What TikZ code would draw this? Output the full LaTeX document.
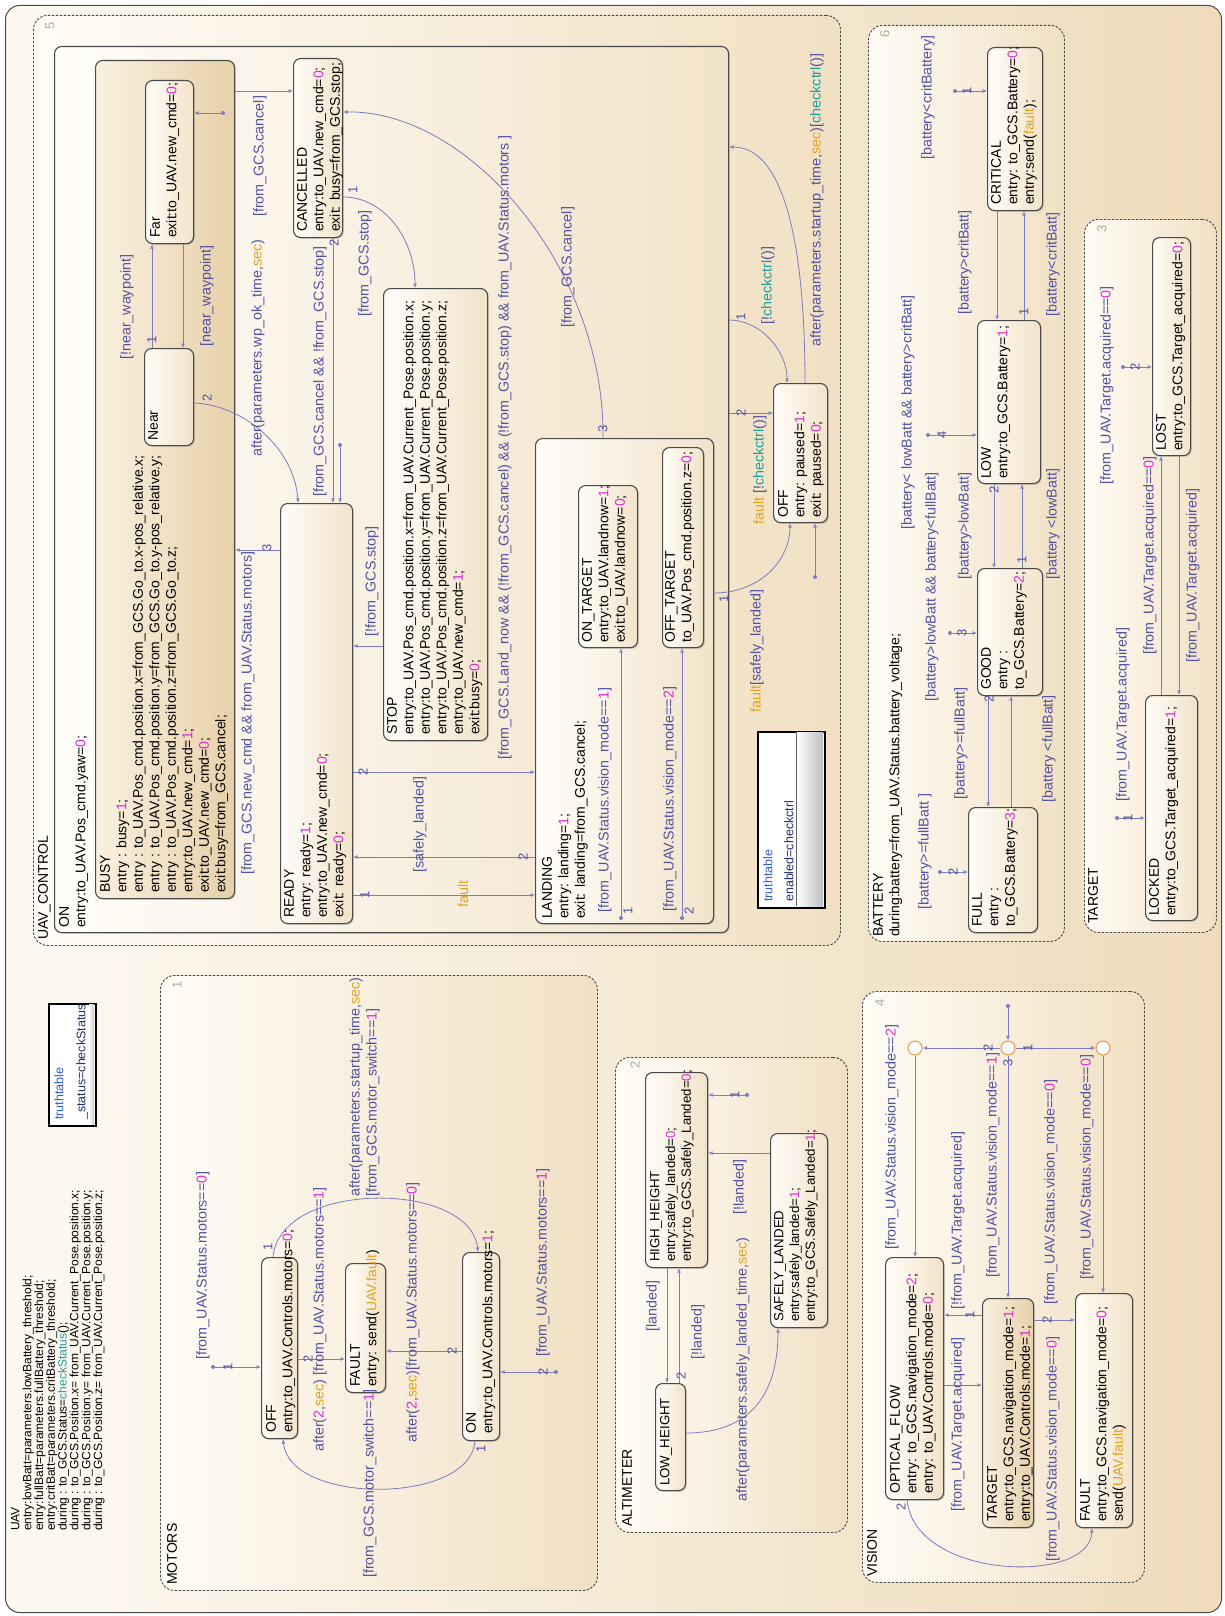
\documentclass[tikz,border=0pt]{standalone}
\usepackage{fontspec}
\setmainfont{Liberation Sans}
\usetikzlibrary{arrows.meta,shadows}
\definecolor{bordgray}{HTML}{4A4A4A}
\definecolor{bgleft}{HTML}{FDF9F1}
\definecolor{bgright}{HTML}{EEDCBC}
\definecolor{parleft}{HTML}{FFFCF6}
\definecolor{parright}{HTML}{F1E0C3}
\definecolor{stleft}{HTML}{FFFDF9}
\definecolor{stright}{HTML}{F2E3C9}
\definecolor{busyleft}{HTML}{FAF1E0}
\definecolor{busyright}{HTML}{E7D0A9}
\definecolor{lineblue}{HTML}{7C7CC0}
\definecolor{guardblue}{HTML}{5252A3}
\definecolor{magnum}{HTML}{D62FD0}
\definecolor{kworange}{HTML}{E3A21A}
\definecolor{fnteal}{HTML}{1E9E9E}
\definecolor{ordgray}{HTML}{AAAAAA}
\definecolor{juncorange}{HTML}{E3A050}
\definecolor{ttblue}{HTML}{2F5FD0}
\definecolor{ttnavy}{HTML}{1F2F6F}
\newcommand{\numc}[1]{\textcolor{magnum}{#1}}
\newcommand{\kwc}[1]{\textcolor{kworange}{#1}}
\newcommand{\fnc}[1]{\textcolor{fnteal}{#1}}
\tikzset{
  uavbox/.style={draw=bordgray,line width=1pt,rounded corners=14pt,left color=bgleft,right color=bgright,inner sep=0pt},
  parbox/.style={draw=bordgray,dash pattern=on 2.5pt off 1.5pt,line width=0.9pt,rounded corners=14pt,left color=parleft,right color=parright,inner sep=0pt},
  stbox/.style={draw=bordgray,line width=1.1pt,rounded corners=7pt,left color=stleft,right color=stright,inner sep=0pt,drop shadow={shadow xshift=1.3pt,shadow yshift=-1.3pt,opacity=0.35}},
  busybox/.style={stbox,left color=busyleft,right color=busyright},
  ttbox/.style={draw=black,line width=1.8pt,fill=white,inner sep=0pt},
  sttext/.style={rotate=90,anchor=north west,inner sep=0pt,align=left,font=\fontsize{14}{16.5}\selectfont,text=black},
  alttext/.style={sttext,font=\fontsize{13.3}{15.7}\selectfont},
  hdrtext/.style={sttext,font=\fontsize{12}{11.8}\selectfont},
  ttext/.style={sttext,font=\fontsize{12.5}{14}\selectfont,text=ttnavy},
  guard/.style={rotate=90,anchor=west,inner sep=0pt,font=\fontsize{14.3}{17}\selectfont,text=guardblue},
  ordnum/.style={rotate=90,inner sep=0pt,font=\fontsize{13}{15}\selectfont,text=guardblue},
  parnum/.style={rotate=90,inner sep=0pt,font=\fontsize{13}{15}\selectfont,text=ordgray},
  trans/.style={draw=lineblue,line width=0.8pt,-{Latex[open,length=4.5pt,width=4pt]}},
  srcdot/.style={circle,fill=lineblue,inner sep=0pt,minimum size=4pt},
  junc/.style={circle,draw=juncorange,line width=1.1pt,fill=white,inner sep=0pt,minimum size=14pt}
}

\begin{document}
\catcode`\_=12
\begin{tikzpicture}[x=1pt,y=-1pt]
\path[use as bounding box] (0,0) rectangle (1225,1616);
\fill[white] (0,0) rectangle (1225,1616);
\node[uavbox,minimum width=1216pt,minimum height=1607pt,anchor=north west] (uav) at (5,5) {};

% parallel states
\node[parbox,minimum width=807pt,minimum height=930pt,anchor=north west] (ctrl) at (33,15) {};
\node[parbox,minimum width=437pt,minimum height=615pt,anchor=north west] (motors) at (160,975) {};
\node[parbox,minimum width=232pt,minimum height=475pt,anchor=north west] (alti) at (615,1057) {};
\node[parbox,minimum width=282pt,minimum height=591pt,anchor=north west] (vision) at (862,991) {};
\node[parbox,minimum width=196pt,minimum height=916pt,anchor=north west] (battery) at (868,25) {};
\node[parbox,minimum width=132pt,minimum height=713pt,anchor=north west] (target) at (1084,219) {};
\node[parnum] (ctrlNum) at (50,26) {5};
\node[parnum] (motNum) at (177,985) {1};
\node[parnum] (altNum) at (635,1065) {2};
\node[parnum] (visNum) at (880,1003) {4};
\node[parnum] (batNum) at (885,34) {6};
\node[parnum] (tgtNum) at (1102,229) {3};

% truth tables
\node[ttbox,minimum width=47pt,minimum height=122pt,anchor=north west] (tt1) at (48,1003) {};
\fill[left color=white,right color=black!22] (89,1004) rectangle (94,1124);
\node[ttbox,minimum width=67pt,minimum height=176pt,anchor=north west] (tt2) at (757,731) {};
\fill[left color=white,right color=black!25] (796,732) rectangle (823,906);
\draw[black!60,line width=0.6pt] (796,732) -- (796,906);

% UAV_CONTROL states
\node[stbox,minimum width=674pt,minimum height=886pt,anchor=north west] (ctrlOn) at (54,46) {};
\node[busybox,minimum width=139pt,minimum height=838pt,anchor=north west] (ctrlBusy) at (95,60) {};
\node[stbox,minimum width=48pt,minimum height=163pt,anchor=north west] (ctrlFar) at (145,80) {};
\node[stbox,minimum width=49pt,minimum height=97pt,anchor=north west] (ctrlNear) at (144,348) {};
\node[stbox,minimum width=49pt,minimum height=179pt,anchor=north west] (ctrlCancel) at (293,58) {};
\node[stbox,minimum width=72pt,minimum height=420pt,anchor=north west] (ctrlReady) at (280,503) {};
\node[stbox,minimum width=104pt,minimum height=452pt,anchor=north west] (ctrlStop) at (383,288) {};
\node[stbox,minimum width=178pt,minimum height=485pt,anchor=north west] (ctrlLanding) at (535,438) {};
\node[stbox,minimum width=59pt,minimum height=162pt,anchor=north west] (ctrlOnTgt) at (578,485) {};
\node[stbox,minimum width=41pt,minimum height=200pt,anchor=north west] (ctrlOffTgt) at (662,447) {};
\node[stbox,minimum width=54pt,minimum height=139pt,anchor=north west] (ctrlOff) at (773,383) {};

% MOTORS states
\node[stbox,minimum width=36pt,minimum height=181pt,anchor=north west] (motOff) at (261,1257) {};
\node[stbox,minimum width=40pt,minimum height=129pt,anchor=north west] (motFault) at (345,1263) {};
\node[stbox,minimum width=37pt,minimum height=188pt,anchor=north west] (motOn) at (462,1252) {};

% ALTIMETER states
\node[stbox,minimum width=62pt,minimum height=195pt,anchor=north west] (altHigh) at (645,1072) {};
\node[stbox,minimum width=30pt,minimum height=107pt,anchor=north west] (altLow) at (655,1383) {};
\node[stbox,minimum width=57pt,minimum height=194pt,anchor=north west] (altSafe) at (770,1133) {};

% VISION states
\node[stbox,minimum width=58pt,minimum height=242pt,anchor=north west] (visOf) at (885,1257) {};
\node[busybox,minimum width=51pt,minimum height=229pt,anchor=north west] (visTgt) at (982,1298) {};
\node[stbox,minimum width=57pt,minimum height=234pt,anchor=north west] (visFault) at (1075,1293) {};
\node[junc] (visJ1) at (915,1048) {};
\node[junc] (visJ2) at (1008,1048) {};
\node[junc] (visJ3) at (1103,1048) {};

% BATTERY states
\node[stbox,minimum width=55pt,minimum height=163pt,anchor=north west] (batCrit) at (987,47) {};
\node[stbox,minimum width=63pt,minimum height=163pt,anchor=north west] (batLow) at (977,320) {};
\node[stbox,minimum width=65pt,minimum height=127pt,anchor=north west] (batGood) at (977,568) {};
\node[stbox,minimum width=69pt,minimum height=125pt,anchor=north west] (batFull) at (968,807) {};

% TARGET states
\node[stbox,minimum width=38pt,minimum height=218pt,anchor=north west] (tgtLost) at (1152,237) {};
\node[stbox,minimum width=52pt,minimum height=225pt,anchor=north west] (tgtLocked) at (1145,695) {};

% UAV_CONTROL transitions
\node[srcdot] (busyDot) at (223,113) {};
\draw[trans] (busyDot) -- (ctrlFar.east |- busyDot);
\draw[trans] (152,0 |- ctrlNear.north) -- (152,0 |- ctrlFar.south);
\node[ordnum] (nearNum) at (152,340) {1};
\node[guard] (nearG1) at (127,360) {[!near_waypoint]};
\draw[trans] (183,0 |- ctrlFar.south) -- (183,0 |- ctrlNear.north);
\node[guard] (farG1) at (207,347) {[near_waypoint]};
\draw[trans] (ctrlBusy.east |- 0,91) -- (ctrlCancel.west |- 0,91);
\node[guard] (busyG1) at (260,217) {[from_GCS.cancel]};
\draw[trans] (ctrlNear.east |- 0,403) .. controls (245,405) and (295,450) .. (298,0 |- ctrlReady.north);
\node[ordnum] (nearNum2) at (207,398) {2};
\node[guard] (nearG2) at (258,457) {after(parameters.wp_ok_time,\kwc{sec})};
\draw[trans] (333,0 |- ctrlCancel.south) -- (333,0 |- ctrlReady.north);
\node[ordnum] (cancNum2) at (334,243) {2};
\node[guard] (cancG2) at (320,497) {[from_GCS.cancel \&\& !from_GCS.stop]};
\node[srcdot] (onDot) at (340,445) {};
\draw[trans] (onDot) -- (onDot |- ctrlReady.north);
\draw[trans] (ctrlReady.west |- 0,550) -- (ctrlBusy.east |- 0,550);
\node[ordnum] (readyNum3) at (267,548) {3};
\node[guard] (readyG3) at (248,875) {[from_GCS.new_cmd \&\& from_UAV.Status.motors]};
\draw[trans] (ctrlStop.west |- 0,646) -- (ctrlReady.east |- 0,646);
\node[guard] (stopG1) at (372,637) {[!from_GCS.stop]};
\draw[trans] (ctrlReady.east |- 0,772) -- (ctrlLanding.west |- 0,772);
\node[ordnum] (readyNum2) at (363,772) {2};
\node[guard] (readyG2) at (505,760) {[from_GCS.Land_now \&\& (!from_GCS.cancel) \&\& (!from_GCS.stop) \&\& from_UAV.Status.motors ]};
\draw[trans] (ctrlLanding.west |- 0,857) -- (ctrlReady.east |- 0,857);
\node[ordnum] (landNum2) at (523,857) {2};
\node[guard] (landG2) at (420,873) {[safely_landed]};
\draw[trans] (ctrlReady.east |- 0,895) -- (ctrlLanding.west |- 0,895);
\node[ordnum] (readyNum1) at (365,895) {1};
\node[guard] (readyG1) at (463,908) {\kwc{fault}};
\draw[trans] (ctrlCancel.east |- 0,197) .. controls (385,197) and (415,240) .. (415,0 |- ctrlStop.north);
\node[ordnum] (cancNum1) at (353,190) {1};
\node[guard] (cancG1) at (365,317) {[from_GCS.stop]};
\draw[trans] (603,0 |- ctrlLanding.north) .. controls (605,270) and (470,110) .. (ctrlCancel.east |- 0,112);
\node[ordnum] (landNum3) at (603,429) {3};
\node[guard] (landG3) at (568,328) {[from_GCS.cancel]};
\draw[trans] (ctrlOn.east |- 0,320) .. controls (760,320) and (787,350) .. (787,0 |- ctrlOff.north);
\node[ordnum] (onNum1) at (741,317) {1};
\node[guard] (onG1) at (768,325) {[!\fnc{checkctrl}()]};
\draw[trans] (ctrlOn.east |- 0,413) -- (ctrlOff.west |- 0,413);
\node[ordnum] (onNum2) at (741,413) {2};
\node[guard] (onG2) at (760,525) {\kwc{fault} [!\fnc{checkctrl}()]};
\draw[trans] (805,0 |- ctrlOff.north) .. controls (805,230) and (780,147) .. (ctrlOn.east |- 0,147);
\node[guard] (offG1) at (817,347) {after(parameters.startup_time,\kwc{sec})[\fnc{checkctrl}()]};
\draw[trans] (ctrlLanding.east |- 0,593) .. controls (760,593) and (790,560) .. (790,0 |- ctrlOff.south);
\node[ordnum] (landNum1) at (724,599) {1};
\node[guard] (landG1) at (757,713) {\kwc{fault}[safely_landed]};
\node[srcdot] (offDot) at (815,577) {};
\draw[trans] (offDot) -- (offDot |- ctrlOff.south);
\node[srcdot] (onTgtDot) at (621,918) {};
\draw[trans] (onTgtDot) -- (onTgtDot |- ctrlOnTgt.south);
\node[ordnum] (onTgtNum) at (628,911) {1};
\node[guard] (onTgtG) at (605,913) {[from_UAV.Status.vision_mode==\numc{1}]};
\node[srcdot] (offTgtDot) at (682,918) {};
\draw[trans] (offTgtDot) -- (offTgtDot |- ctrlOffTgt.south);
\node[ordnum] (offTgtNum) at (689,911) {2};
\node[guard] (offTgtG) at (670,912) {[from_UAV.Status.vision_mode==\numc{2}]};

% MOTORS transitions
\node[srcdot] (motDot1) at (213,1367) {};
\draw[trans] (motDot1) -- (motOff.west |- motDot1);
\node[ordnum] (motN1) at (228,1367) {1};
\node[guard] (motG1) at (203,1360) {[from_UAV.Status.motors==\numc{0}]};
\draw[trans] (motOff.east |- 0,1359) -- (motFault.west |- 0,1359);
\node[ordnum] (motN2) at (308,1359) {2};
\node[guard] (motG2) at (320,1452) {after(\numc{2},\kwc{sec}) [from_UAV.Status.motors==\numc{1}]};
\draw[trans] (motOn.west |- 0,1351) -- (motFault.east |- 0,1351);
\node[ordnum] (motN3) at (452,1351) {2};
\node[guard] (motG3) at (413,1443) {after(\numc{2},\kwc{sec})[from_UAV.Status.motors==\numc{0}]};
\draw[trans] (475,0 |- motOn.south) .. controls (470,1505) and (290,1505) .. (283,0 |- motOff.south);
\node[ordnum] (motN4) at (481,1449) {1};
\node[guard] (motG4) at (370,1578) {[from_GCS.motor_switch==\numc{1}]};
\draw[trans] (273,0 |- motOff.north) .. controls (280,1180) and (470,1180) .. (478,0 |- motOn.north);
\node[ordnum] (motN5) at (268,1247) {1};
\node[guard,anchor=north west,align=left] (motG5) at (349,1197) {after(parameters.startup_time,\kwc{sec})\\ {}[from_GCS.motor_switch==\numc{1}]};
\node[srcdot] (motDot2) at (556,1372) {};
\draw[trans] (motDot2) -- (motOn.east |- motDot2);
\node[ordnum] (motN6) at (543,1372) {2};
\node[guard] (motG6) at (543,1357) {[from_UAV.Status.motors==\numc{1}]};

% ALTIMETER transitions
\node[srcdot] (altDot) at (747,1095) {};
\draw[trans] (altDot) -- (altHigh.east |- altDot);
\node[ordnum] (altN1) at (735,1095) {1};
\draw[trans] (667,0 |- altHigh.south) -- (667,0 |- altLow.north);
\node[guard] (altG1) at (653,1332) {[landed]};
\draw[trans] (679,0 |- altLow.north) -- (679,0 |- altHigh.south);
\node[ordnum] (altN2) at (681,1376) {2};
\node[guard] (altG2) at (698,1360) {[!landed]};
\draw[trans] (altLow.east |- 0,1433) .. controls (745,1433) and (778,1400) .. (778,0 |- altSafe.south);
\node[guard] (altG3) at (743,1502) {after(parameters.safely_landed_time,\kwc{sec})};
\draw[trans] (altSafe.west |- 0,1153) -- (altHigh.east |- 0,1153);
\node[guard] (altG4) at (740,1215) {[!landed]};

% VISION transitions
\node[srcdot] (visDot) at (1008,1006) {};
\draw[trans] (visDot) -- (visJ2);
\draw[trans] (visJ2) -- (visJ1);
\node[ordnum] (visN1) at (988,1048) {2};
\draw[trans] (visJ2) -- (visJ3);
\node[ordnum] (visN2) at (1028,1048) {1};
\draw[trans] (visJ2) -- (visJ2 |- visTgt.north);
\node[ordnum] (visN3) at (1008,1063) {3};
\draw[trans] (visJ1) -- (visJ1 |- visOf.north);
\draw[trans] (visJ3) -- (visJ3 |- visFault.north);
\node[guard] (visG1) at (892,1250) {[from_UAV.Status.vision_mode==\numc{2}]};
\node[guard] (visG2) at (993,1278) {[from_UAV.Status.vision_mode==\numc{1}]};
\node[guard] (visG3) at (1087,1280) {[from_UAV.Status.vision_mode==\numc{0}]};
\draw[trans] (visTgt.west |- 0,1315) -- (visOf.east |- 0,1315);
\node[ordnum] (visN4) at (970,1315) {1};
\node[guard] (visG4) at (958,1310) {[!from_UAV.Target.acquired]};
\draw[trans] (visOf.east |- 0,1385) -- (visTgt.west |- 0,1385);
\node[guard] (visG5) at (958,1512) {[from_UAV.Target.acquired]};
\draw[trans] (visTgt.east |- 0,1320) -- (visFault.west |- 0,1320);
\node[ordnum] (visN5) at (1047,1320) {2};
\node[guard] (visG6) at (1051,1305) {[from_UAV.Status.vision_mode==\numc{0}]};
\draw[trans] (907,0 |- visOf.south) .. controls (915,1580) and (1090,1585) .. (1092,0 |- visFault.south);
\node[ordnum] (visN6) at (901,1507) {2};
\node[guard] (visG7) at (1053,1562) {[from_UAV.Status.vision_mode==\numc{0}]};

% BATTERY transitions
\node[srcdot] (batDot1) at (955,91) {};
\draw[trans] (batDot1) -- (batCrit.west |- batDot1);
\node[ordnum] (batN1) at (967,91) {1};
\node[guard] (batG1) at (928,160) {[battery<critBattery]};
\draw[trans] (997,0 |- batCrit.south) -- (997,0 |- batLow.north);
\node[guard] (batG2) at (965,315) {[battery>critBatt]};
\draw[trans] (1024,0 |- batLow.north) -- (1024,0 |- batCrit.south);
\node[ordnum] (batN2) at (1024,312) {1};
\node[guard] (batG3) at (1053,317) {[battery<critBatt]};
\node[srcdot] (batDot4) at (928,435) {};
\draw[trans] (batDot4) -- (batLow.west |- batDot4);
\node[ordnum] (batN3) at (942,435) {4};
\node[guard] (batG4) at (908,530) {[battery< lowBatt \&\& battery>critBatt]};
\draw[trans] (994,0 |- batLow.south) -- (994,0 |- batGood.north);
\node[ordnum] (batN4) at (994,490) {2};
\node[guard] (batG5) at (965,580) {[battery>lowBatt]};
\draw[trans] (1022,0 |- batGood.north) -- (1022,0 |- batLow.south);
\node[ordnum] (batN5) at (1022,560) {1};
\node[guard] (batG6) at (1053,580) {[battery <lowBatt]};
\node[srcdot] (batDot3) at (950,633) {};
\draw[trans] (batDot3) -- (batGood.west |- batDot3);
\node[ordnum] (batN6) at (962,633) {3};
\node[guard] (batG7) at (932,702) {[battery>lowBatt \&\& battery<fullBatt]};
\draw[trans] (988,0 |- batGood.south) -- (988,0 |- batFull.north);
\node[ordnum] (batN7) at (989,699) {2};
\node[guard] (batG8) at (961,800) {[battery>=fullBatt]};
\draw[trans] (1011,0 |- batFull.north) -- (1011,0 |- batGood.south);
\node[guard] (batG9) at (1049,803) {[battery <fullBatt]};
\node[srcdot] (batDot2) at (940,872) {};
\draw[trans] (batDot2) -- (batFull.west |- batDot2);
\node[ordnum] (batN8) at (953,872) {2};
\node[guard] (batG10) at (925,910) {[battery>=fullBatt ]};

% TARGET transitions
\node[srcdot] (tgtDot2) at (1123,367) {};
\draw[trans] (tgtDot2) -- (tgtLost.west |- tgtDot2);
\node[ordnum] (tgtN1) at (1135,367) {2};
\node[guard] (tgtG1) at (1107,485) {[from_UAV.Target.acquired==\numc{0}]};
\node[srcdot] (tgtDot1) at (1117,818) {};
\draw[trans] (tgtDot1) -- (tgtLocked.west |- tgtDot1);
\node[ordnum] (tgtN2) at (1128,818) {1};
\node[guard] (tgtG2) at (1123,802) {[from_UAV.Target.acquired]};
\draw[trans] (1161,0 |- tgtLocked.north) -- (1161,0 |- tgtLost.south);
\node[guard] (tgtG3) at (1150,655) {[from_UAV.Target.acquired==\numc{0}]};
\draw[trans] (1179,0 |- tgtLost.south) -- (1179,0 |- tgtLocked.north);
\node[guard] (tgtG4) at (1193,663) {[from_UAV.Target.acquired]};

% texts
\node[hdrtext] (uavTxt) at (11,1531) {UAV\\entry:lowBatt=parameters.lowBattery_threshold;\\entry:fullBatt=parameters.fullBattery_threshold;\\entry:critBatt=parameters.critBattery_threshold;\\during : to_GCS.Status=\fnc{checkStatus}();\\during : to_GCS.Position.x= from_UAV.Current_Pose.position.x;\\during : to_GCS.Position.y= from_UAV.Current_Pose.position.y;\\during : to_GCS.Position.z= from_UAV.Current_Pose.position.z;};
\node[ttext] (tt1Txt) at (54,1120) {\textcolor{ttblue}{truthtable}\\[8pt]_status=checkStatus};
\node[ttext] (tt2Txt) at (763,902) {\textcolor{ttblue}{truthtable}\\[7pt]enabled=checkctrl};

\node[sttext] (ctrlTitle) at (38,940) {UAV_CONTROL};
\node[sttext] (ctrlOnTxt) at (59,928) {ON\\entry:to_UAV.Pos_cmd.yaw=\numc{0};};
\node[sttext] (ctrlBusyTxt) at (100,893) {BUSY\\entry : busy=\numc{1};\\entry : to_UAV.Pos_cmd.position.x=from_GCS.Go_to.x-pos_relative.x;\\entry : to_UAV.Pos_cmd.position.y=from_GCS.Go_to.y-pos_relative.y;\\entry : to_UAV.Pos_cmd.position.z=from_GCS.Go_to.z;\\entry:to_UAV.new_cmd=\numc{1};\\exit:to_UAV.new_cmd=\numc{0};\\exit:busy=from_GCS.cancel;};
\node[sttext] (ctrlFarTxt) at (150,238) {Far\\exit:to_UAV.new_cmd=\numc{0};};
\node[sttext] (ctrlNearTxt) at (148,441) {Near};
\node[sttext] (ctrlCancelTxt) at (297,232) {CANCELLED\\entry:to_UAV.new_cmd=\numc{0};\\exit: busy=from_GCS.stop;};
\node[sttext] (ctrlReadyTxt) at (284,918) {READY\\entry: ready=\numc{1};\\entry:to_UAV.new_cmd=\numc{0};\\exit: ready=\numc{0};};
\node[sttext] (ctrlStopTxt) at (387,735) {STOP\\entry:to_UAV.Pos_cmd.position.x=from_UAV.Current_Pose.position.x;\\entry:to_UAV.Pos_cmd.position.y=from_UAV.Current_Pose.position.y;\\entry:to_UAV.Pos_cmd.position.z=from_UAV.Current_Pose.position.z;\\entry:to_UAV.new_cmd=\numc{1};\\exit:busy=\numc{0};};
\node[sttext] (ctrlLandingTxt) at (542,919) {LANDING\\entry: landing=\numc{1};\\exit: landing=from_GCS.cancel;};
\node[sttext] (ctrlOnTgtTxt) at (582,643) {ON_TARGET\\entry:to_UAV.landnow=\numc{1};\\exit:to_UAV.landnow=\numc{0};};
\node[sttext] (ctrlOffTgtTxt) at (665,643) {OFF_TARGET\\to_UAV.Pos_cmd.position.z=\numc{0};};
\node[sttext] (ctrlOffTxt) at (778,518) {OFF\\entry: paused=\numc{1};\\exit: paused=\numc{0};};

\node[sttext] (motTitle) at (167,1585) {MOTORS};
\node[sttext] (motOffTxt) at (266,1433) {OFF\\entry:to_UAV.Controls.motors=\numc{0};};
\node[sttext] (motFaultTxt) at (350,1387) {FAULT\\entry: send(\kwc{UAV.fault})};
\node[sttext] (motOnTxt) at (466,1434) {ON\\entry:to_UAV.Controls.motors=\numc{1};};

\node[sttext] (altTitle) at (622,1527) {ALTIMETER};
\node[alttext] (altHighTxt) at (650,1262) {HIGH_HEIGHT\\entry:safely_landed=\numc{0};\\entry:to_GCS.Safely_Landed=\numc{0};};
\node[alttext] (altLowTxt) at (660,1486) {LOW_HEIGHT};
\node[alttext] (altSafeTxt) at (774,1322) {SAFELY_LANDED\\entry:safely_landed=\numc{1};\\entry:to_GCS.Safely_Landed=\numc{1};};

\node[sttext] (visTitle) at (867,1577) {VISION};
\node[sttext] (visOfTxt) at (890,1494) {OPTICAL_FLOW\\entry: to_GCS.navigation_mode=\numc{2};\\entry: to_UAV.Controls.mode=\numc{0};};
\node[sttext] (visTgtTxt) at (987,1522) {TARGET\\entry:to_GCS.navigation_mode=\numc{1};\\entry:to_UAV.Controls.mode=\numc{1};};
\node[sttext] (visFaultTxt) at (1080,1522) {FAULT\\entry:to_GCS.navigation_mode=\numc{0};\\send(\kwc{UAV.fault})};

\node[sttext] (batTitle) at (873,937) {BATTERY\\during:battery=from_UAV.Status.battery_voltage;};
\node[sttext] (batCritTxt) at (991,205) {CRITICAL\\entry: to_GCS.Battery=\numc{0};\\entry:send(\kwc{fault});};
\node[sttext] (batLowTxt) at (981,479) {LOW\\entry:to_GCS.Battery=\numc{1};};
\node[sttext] (batGoodTxt) at (981,690) {GOOD\\entry :\\to_GCS.Battery=\numc{2};};
\node[sttext] (batFullTxt) at (972,927) {FULL\\entry :\\to_GCS.Battery=\numc{3};};

\node[sttext] (tgtTitle) at (1088,924) {TARGET};
\node[sttext] (tgtLostTxt) at (1156,451) {LOST\\entry:to_GCS.Target_acquired=\numc{0};};
\node[sttext] (tgtLockedTxt) at (1149,916) {LOCKED\\entry:to_GCS.Target_acquired=\numc{1};};
\end{tikzpicture}
\end{document}
